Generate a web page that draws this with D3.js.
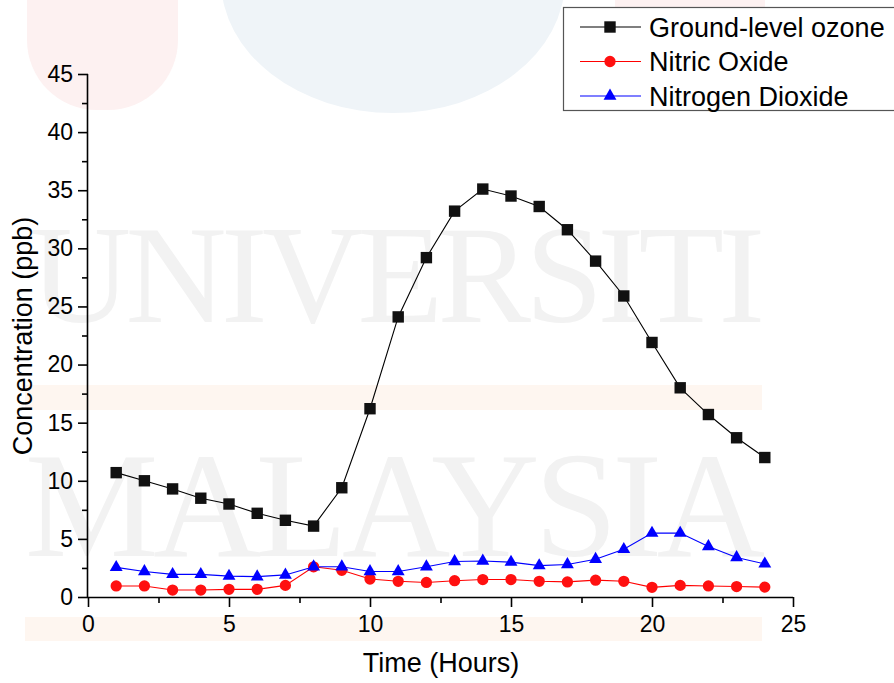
<!DOCTYPE html>
<html><head><meta charset="utf-8">
<script src="https://cdn.jsdelivr.net/npm/d3@7/dist/d3.min.js"></script>
<style>body{margin:0;background:#fff;} svg{display:block;}</style>
</head><body>
<svg id="chart" width="894" height="683"></svg>
<script>
const hours = [1,2,3,4,5,6,7,8,9,10,11,12,13,14,15,16,17,18,19,20,21,22,23,24];
const ozone = [10.7,10.0,9.3,8.5,8.0,7.2,6.6,6.1,9.4,16.2,24.1,29.2,33.2,35.1,34.5,33.6,31.6,28.9,25.9,21.9,18.0,15.7,13.7,12.0];
const nitricOxide = [0.95,0.95,0.6,0.6,0.66,0.66,1.0,2.6,2.3,1.55,1.35,1.25,1.4,1.5,1.5,1.35,1.3,1.45,1.35,0.83,1.0,0.95,0.9,0.85];
const nitrogenDioxide = [2.55,2.2,1.95,1.95,1.8,1.75,1.9,2.6,2.6,2.2,2.2,2.6,3.05,3.1,3.0,2.7,2.8,3.25,4.1,5.5,5.5,4.35,3.4,2.85];
const seriesNames = ["Ground-level ozone","Nitric Oxide","Nitrogen Dioxide"];
const xTicks = [0,5,10,15,20,25];
const yTicks = [0,5,10,15,20,25,30,35,40,45];
const xTitle = "Time (Hours)";
const yTitle = "Concentration (ppb)";

const svg = d3.select("#chart");
const font = "'Liberation Sans', Arial, sans-serif";

// faint watermark background
const wm = svg.append("g");
wm.append("rect").attr("x",27).attr("y",-80).attr("width",151).attr("height",190).attr("rx",70).attr("fill","#fdf1f1");
wm.append("rect").attr("x",615).attr("y",-80).attr("width",150).attr("height",190).attr("rx",70).attr("fill","#fdf1f1");
wm.append("ellipse").attr("cx",393).attr("cy",-20).attr("rx",172).attr("ry",133).attr("fill","#eff4f8");
wm.append("rect").attr("x",25).attr("y",385).attr("width",737).attr("height",25).attr("fill","#fef6f0");
wm.append("rect").attr("x",25).attr("y",617).attr("width",737).attr("height",24).attr("fill","#fef6f0");
wm.append("text").attr("x",30).attr("y",322).attr("textLength",735).attr("lengthAdjust","spacing")
  .attr("font-family","'Liberation Serif','Times New Roman',serif").attr("font-size",140).attr("fill","#f2f2f2").text("UNIVERSITI");
wm.append("text").attr("x",25).attr("y",556).attr("textLength",740).attr("lengthAdjust","spacing")
  .attr("font-family","'Liberation Serif','Times New Roman',serif").attr("font-size",150).attr("fill","#f2f2f2").text("MALAYSIA");

const x = d3.scaleLinear().domain([0,25]).range([88,793]);
const y = d3.scaleLinear().domain([0,45]).range([597,74]);

// axes
const xAxis = svg.append("g").attr("transform","translate(0,597)")
  .call(d3.axisBottom(x).tickValues(xTicks).tickSize(10).tickPadding(4).tickFormat(d3.format("d")));
svg.append("g").attr("transform","translate(0,597)")
  .call(d3.axisBottom(x).tickValues([2.5,7.5,12.5,17.5,22.5]).tickSize(6).tickFormat(""))
  .call(g=>g.select(".domain").remove());
const yAxis = svg.append("g").attr("transform","translate(88,0)")
  .call(d3.axisLeft(y).tickValues(yTicks).tickSize(10).tickPadding(5).tickFormat(d3.format("d")));
svg.append("g").attr("transform","translate(88,0)")
  .call(d3.axisLeft(y).tickValues([2.5,7.5,12.5,17.5,22.5,27.5,32.5,37.5,42.5]).tickSize(6).tickFormat(""))
  .call(g=>g.select(".domain").remove());
svg.selectAll(".domain").attr("stroke","#000").attr("stroke-width",1.6);
xAxis.select(".domain").attr("d","M88,0.5H793");
yAxis.select(".domain").attr("d","M-0.5,74V597");
svg.selectAll(".tick line").attr("stroke","#000").attr("stroke-width",1.6);
svg.selectAll(".tick text").attr("font-family",font).attr("font-size",23).attr("fill","#000");
xAxis.selectAll(".tick text").attr("dy","0.9em");

// titles
svg.append("text").attr("x",441).attr("y",672).attr("text-anchor","middle")
  .attr("font-family",font).attr("font-size",27).attr("fill","#000").text(xTitle);
svg.append("text").attr("transform","translate(32,336) rotate(-90)").attr("text-anchor","middle")
  .attr("font-family",font).attr("font-size",27).attr("fill","#000").text(yTitle);

const series = [
  {name:seriesNames[0], values:ozone, color:"#000000", fill:"#111111", sym:d3.symbolSquare, size:130},
  {name:seriesNames[1], values:nitricOxide, color:"#ff0000", fill:"#ff1010", sym:d3.symbolCircle, size:100},
  {name:seriesNames[2], values:nitrogenDioxide, color:"#0000ff", fill:"#0000ff", sym:d3.symbolTriangle, size:72}
];
const line = d3.line().x(d=>x(d[0])).y(d=>y(d[1]));
series.forEach(s=>{
  const pts = hours.map((h,i)=>[h,s.values[i]]);
  svg.append("path").datum(pts).attr("d",line).attr("fill","none").attr("stroke",s.color).attr("stroke-width",1.1);
});
series.forEach(s=>{
  const pts = hours.map((h,i)=>[h,s.values[i]]);
  svg.append("g").selectAll("path").data(pts).join("path")
    .attr("transform",d=>`translate(${x(d[0])},${y(d[1])})`)
    .attr("d",d3.symbol().type(s.sym).size(s.size)).attr("fill",s.fill);
});

// legend
const lg = svg.append("g");
lg.append("rect").attr("x",563.5).attr("y",7.5).attr("width",340).attr("height",103)
  .attr("fill","#fff").attr("stroke","#555").attr("stroke-width",1.2);
series.forEach((s,i)=>{
  const cy = 27 + i*34.5;
  lg.append("line").attr("x1",580).attr("x2",641).attr("y1",cy).attr("y2",cy).attr("stroke",s.color).attr("stroke-width",1.1);
  lg.append("path").attr("transform",`translate(610,${cy})`).attr("d",d3.symbol().type(s.sym).size(s.size)).attr("fill",s.fill);
  lg.append("text").attr("x",649).attr("y",cy).attr("dy","0.36em").attr("font-family",font).attr("font-size",27).attr("fill","#000").text(s.name);
});
</script>
</body></html>
